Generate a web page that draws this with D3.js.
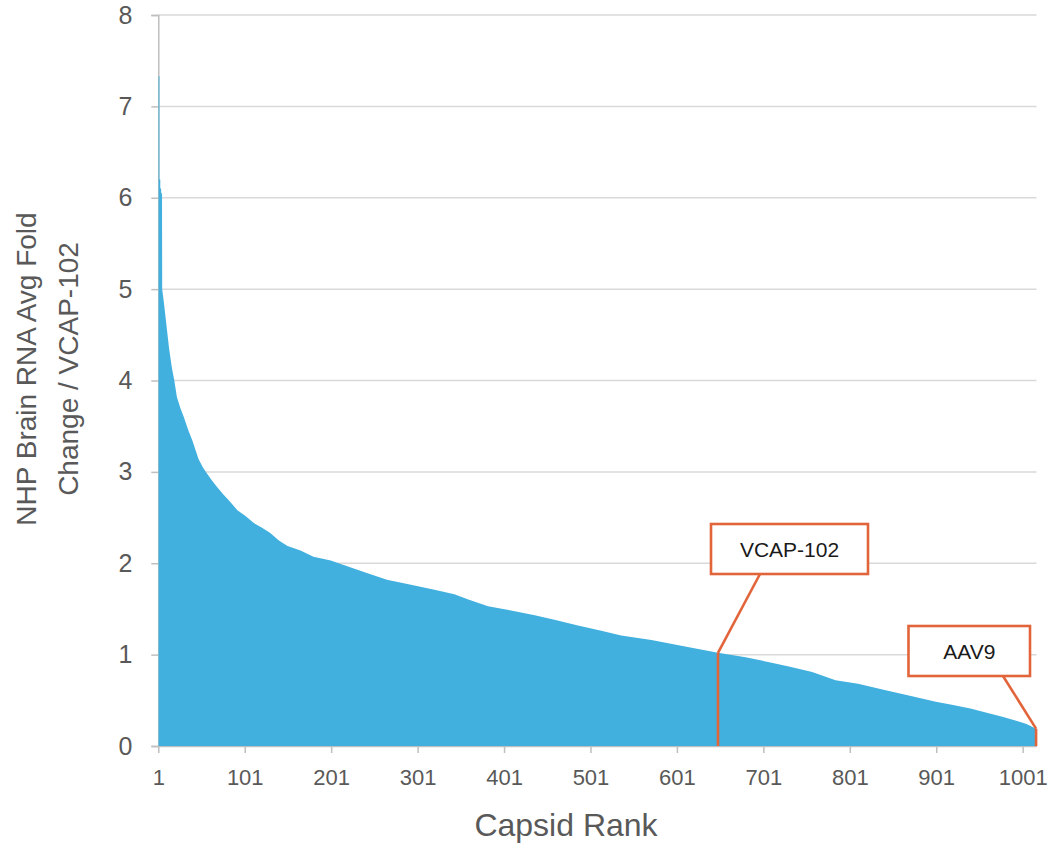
<!DOCTYPE html>
<html>
<head>
<meta charset="utf-8">
<script src="https://cdn.jsdelivr.net/npm/d3@7"></script>
<style>
  html, body { margin: 0; padding: 0; background: #fff; }
  svg { display: block; font-family: "Liberation Sans", Arial, Helvetica, sans-serif; }
</style>
</head>
<body>
<svg id="chart" width="1048" height="854"></svg>
<script>
// ---- data ----
const capsidCount = 1016;
// individually readable top-ranked bars
const headRanks = [1, 2, 3, 4];
const headValues = [7.33, 6.2, 6.1, 6.05];
// sampled bar heights along the rest of the ranked curve
const sampleRanks = [5, 7, 10, 13, 16, 19, 22, 26, 30, 35, 40, 47, 52, 57, 63, 68, 75, 82, 92, 101,
  111, 120, 130, 140, 150, 165, 180, 200, 215, 240, 265, 290, 320, 343, 360, 382, 410, 436, 460, 486, 513,
  536, 571, 610, 648, 680, 706, 730, 757, 784, 810, 842, 870, 900, 920, 940, 960, 977, 995, 1005, 1016];
const sampleValues = [5.0, 4.85, 4.6, 4.35, 4.15, 4.0, 3.82, 3.7, 3.6, 3.46, 3.34, 3.14, 3.05, 2.98, 2.9, 2.84, 2.76, 2.69, 2.58, 2.52,
  2.44, 2.39, 2.33, 2.25, 2.19, 2.14, 2.07, 2.03, 1.98, 1.9, 1.82, 1.77, 1.71, 1.66, 1.6, 1.53, 1.48, 1.43, 1.38, 1.32, 1.26,
  1.21, 1.16, 1.09, 1.02, 0.97, 0.92, 0.87, 0.81, 0.72, 0.68, 0.61, 0.55, 0.485, 0.45, 0.41, 0.36, 0.32, 0.27, 0.24, 0.19];
const xTickRanks = [1, 101, 201, 301, 401, 501, 601, 701, 801, 901, 1001];
const yTickValues = [0, 1, 2, 3, 4, 5, 6, 7, 8];
const highlightNames = ["VCAP-102", "AAV9"];
const highlightRanks = [648, 1016];
const highlightValues = [1.02, 0.19];
const xTitle = "Capsid Rank";
const yTitleLines = ["NHP Brain RNA Avg Fold", "Change / VCAP-102"];

// ---- layout ----
const svg = d3.select("#chart");
const plotLeft = 158.3, plotRight = 1036.5, plotTop = 15, plotBottom = 746;
const x = d3.scaleLinear().domain([1, capsidCount + 1]).range([plotLeft, plotRight]);
const y = d3.scaleLinear().domain([0, 8]).range([plotBottom, plotTop]);
const blue = "#41b0df", orange = "#e2643b", axisGray = "#bfbfbf", gridGray = "#d9d9d9", textGray = "#595959";

// gridlines
svg.append("g").selectAll("line").data(yTickValues.filter(v => v > 0)).join("line")
  .attr("x1", plotLeft).attr("x2", plotRight)
  .attr("y1", d => y(d)).attr("y2", d => y(d))
  .attr("stroke", gridGray).attr("stroke-width", 1.5);

// axes (drawn under the bars)
const yAxis = d3.axisLeft(y).tickValues(yTickValues).tickSize(7).tickPadding(19).tickFormat(d3.format("d"));
const gy = svg.append("g").attr("transform", `translate(${plotLeft},0)`).call(yAxis);
gy.select(".domain").attr("stroke", axisGray).attr("stroke-width", 1.5);
gy.selectAll(".tick line").attr("stroke", axisGray).attr("stroke-width", 1.5);
gy.selectAll(".tick text").attr("fill", textGray).attr("font-size", 25).attr("font-family", null);

const xAxis = d3.axisBottom(x).tickValues(xTickRanks).tickSize(7).tickPadding(16).tickSizeOuter(0).tickFormat(d3.format("d"));
const gx = svg.append("g").attr("transform", `translate(0,${plotBottom})`).call(xAxis);
gx.select(".domain").attr("stroke", axisGray).attr("stroke-width", 1.5);
gx.selectAll(".tick line").attr("stroke", axisGray).attr("stroke-width", 1.5);
gx.selectAll(".tick text").attr("fill", textGray).attr("font-size", 22).attr("font-family", null);

// ranked bars: the head as individual bar steps, the rest through sampled heights
const headPts = [];
headRanks.forEach((r, i) => {
  headPts.push({ r: r + 0.3, v: headValues[i] });
  headPts.push({ r: r + 1.3, v: headValues[i] });
});
const tailPts = sampleRanks.map((r, i) => ({ r: r + 0.5, v: sampleValues[i] }));
const areaPts = [...headPts, ...tailPts, { r: capsidCount + 1, v: sampleValues[sampleValues.length - 1] }];
const area = d3.area()
  .x(d => x(d.r))
  .y0(y(0))
  .y1(d => y(d.v))
  .curve(d3.curveLinear);
svg.append("path").datum(areaPts).attr("d", area).attr("fill", blue);

// highlighted bars
svg.append("g").selectAll("rect").data(highlightRanks).join("rect")
  .attr("x", d => x(d + 0.5) - 1.3)
  .attr("width", 2.6)
  .attr("y", (d, i) => y(highlightValues[i]))
  .attr("height", (d, i) => y(0) - y(highlightValues[i]))
  .attr("fill", orange);

// titles
svg.append("text").attr("x", 566).attr("y", 836).attr("text-anchor", "middle")
  .attr("font-size", 32).attr("fill", textGray).text(xTitle);
yTitleLines.forEach((t, i) => {
  svg.append("text")
    .attr("transform", `translate(${35.5 + i * 42},369) rotate(-90)`)
    .attr("text-anchor", "middle").attr("font-size", 28).attr("fill", textGray).text(t);
});

// annotation callouts
const boxes = [
  { x0: 711, y0: 524, w: 157, h: 50, lx: 760 },
  { x0: 908.5, y0: 626, w: 121.5, h: 50, lx: 1003 }
];
boxes.forEach((b, i) => {
  const bx = x(highlightRanks[i] + 0.5), by = y(highlightValues[i]);
  svg.append("line").attr("x1", b.lx).attr("y1", b.y0 + b.h).attr("x2", bx).attr("y2", by)
    .attr("stroke", orange).attr("stroke-width", 2.6);
  svg.append("rect").attr("x", b.x0).attr("y", b.y0).attr("width", b.w).attr("height", b.h)
    .attr("fill", "#fff").attr("stroke", orange).attr("stroke-width", 2.6);
  svg.append("text").attr("x", b.x0 + b.w / 2).attr("y", b.y0 + b.h / 2).attr("dy", "0.36em")
    .attr("text-anchor", "middle").attr("font-size", 21).attr("fill", "#1a1a1a").text(highlightNames[i]);
});
</script>
</body>
</html>
